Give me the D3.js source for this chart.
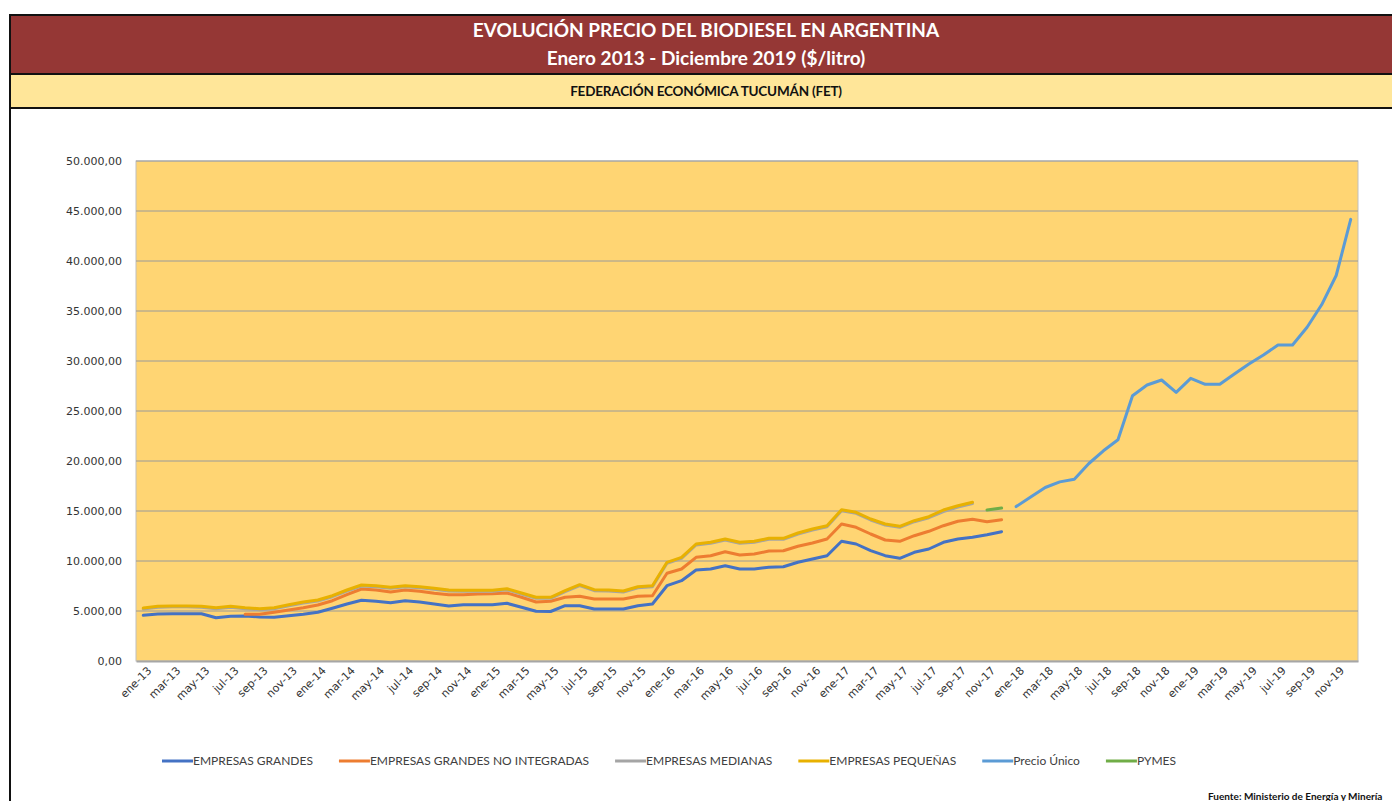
<!DOCTYPE html>
<html>
<head>
<meta charset="utf-8">
<script src="https://cdn.jsdelivr.net/npm/d3@7"></script>
<style>
  body { margin: 0; background: #fff; }
  svg { display: block; }
</style>
</head>
<body>
<div id="chart"></div>
<script>
// meses y años del eje de categorías
const monthNames = ["ene", "feb", "mar", "abr", "may", "jun", "jul", "ago", "sep", "oct", "nov", "dic"];
const years = ["13", "14", "15", "16", "17", "18", "19"];
const categories = years.flatMap(y => monthNames.map(m => m + "-" + y));

const yTicks = [0, 5000, 10000, 15000, 20000, 25000, 30000, 35000, 40000, 45000, 50000];

// valores ($/litro), cada serie empieza en el índice indicado
const grandes = [4570, 4700, 4730, 4730, 4730, 4330, 4470, 4500, 4400, 4370,
  4530, 4670, 4870, 5270, 5700, 6070, 5970, 5830, 6030, 5900,
  5700, 5500, 5630, 5630, 5630, 5770, 5370, 4970, 4950, 5530,
  5530, 5200, 5200, 5200, 5530, 5700, 7530, 8030, 9100, 9200,
  9530, 9200, 9200, 9370, 9430, 9870, 10200, 10530, 11970, 11700,
  11030, 10530, 10270, 10870, 11200, 11870, 12200, 12370, 12630, 12930];
const grandesStart = 0;

const noIntegradas = [4670, 4670, 4870,
  5100, 5330, 5600, 6030, 6630, 7200, 7100, 6900, 7100, 6970,
  6770, 6630, 6630, 6700, 6730, 6800, 6370, 5900, 5970,
  6370, 6470, 6200, 6200, 6200, 6470, 6530, 8770, 9200, 10370, 10530,
  10930, 10600, 10700, 11000, 11030, 11470, 11800, 12200, 13700, 13370,
  12700, 12100, 11970, 12530, 12970, 13530, 13970, 14170, 13930, 14130];
const noIntegradasStart = 7;

const medianas = [5200, 5380, 5420, 5420, 5380, 5230, 5380, 5230, 5130, 5230,
  5530, 5800, 6000, 6430, 7000, 7500, 7430, 7270, 7430, 7330,
  7170, 7000, 6970, 6970, 6970, 7130, 6700, 6270, 6270,
  6930, 7530, 7030, 7000, 6900, 7330, 7430, 9770, 10270, 11600, 11770,
  12100, 11770, 11870, 12170, 12170, 12700, 13100, 13430, 15030, 14770,
  14100, 13600, 13370, 13930, 14330, 14950, 15400, 15750];
const medianasStart = 0;

const pequenas = [5300, 5470, 5500, 5500, 5470, 5330, 5470, 5330, 5230, 5330,
  5630, 5900, 6100, 6530, 7100, 7600, 7530, 7370, 7530, 7430,
  7270, 7100, 7070, 7070, 7070, 7230, 6800, 6370, 6370,
  7030, 7630, 7130, 7100, 7000, 7430, 7530, 9870, 10370, 11700, 11870,
  12200, 11870, 11970, 12270, 12270, 12800, 13200, 13530, 15130, 14870,
  14200, 13700, 13470, 14030, 14430, 15100, 15530, 15870];
const pequenasStart = 0;

const precioUnico = [15440, 16410, 17350, 17910, 18180, 19750, 21020, 22120, 26530, 27600,
  28100, 26860, 28270, 27670, 27670, 28700, 29700, 30600, 31600, 31600,
  33380, 35620, 38550, 44160];
const precioUnicoStart = 60;

const pymes = [15100, 15300];
const pymesStart = 58;

const seriesNames = ["EMPRESAS GRANDES", "EMPRESAS GRANDES NO INTEGRADAS", "EMPRESAS MEDIANAS",
  "EMPRESAS PEQUEÑAS", "Precio Único", "PYMES"];
const seriesColors = ["#4472C4", "#ED7D31", "#A5A5A5", "#E8B100", "#5B9BD5", "#70AD47"];
const seriesValues = [grandes, noIntegradas, medianas, pequenas, precioUnico, pymes];
const seriesStarts = [grandesStart, noIntegradasStart, medianasStart, pequenasStart, precioUnicoStart, pymesStart];

const series = seriesNames.map((name, k) => ({
  name: name,
  color: seriesColors[k],
  points: seriesValues[k].map((v, j) => ({ cat: categories[seriesStarts[k] + j], value: v }))
}));

const W = 1392, H = 801;
const svg = d3.select("#chart").append("svg")
  .attr("width", W)
  .attr("height", H);

// cabecera
svg.append("rect")
  .attr("x", 10).attr("y", 15)
  .attr("width", W).attr("height", 59)
  .attr("fill", "#953735")
  .attr("stroke", "#111").attr("stroke-width", 2);

svg.append("rect")
  .attr("x", 10).attr("y", 74)
  .attr("width", W).attr("height", 34)
  .attr("fill", "#FFE699")
  .attr("stroke", "#111").attr("stroke-width", 2);

svg.append("line")
  .attr("x1", 10).attr("y1", 15)
  .attr("x2", 10).attr("y2", H)
  .attr("stroke", "#111").attr("stroke-width", 2);

const titleFont = "Lato, 'Open Sans', sans-serif";

svg.append("text")
  .attr("x", 706).attr("y", 37)
  .attr("text-anchor", "middle")
  .attr("fill", "#fff")
  .style("font-family", titleFont)
  .style("font-weight", "bold")
  .style("font-size", "19px")
  .text("EVOLUCIÓN PRECIO DEL BIODIESEL EN ARGENTINA");

svg.append("text")
  .attr("x", 706).attr("y", 65)
  .attr("text-anchor", "middle")
  .attr("fill", "#fff")
  .style("font-family", titleFont)
  .style("font-weight", "bold")
  .style("font-size", "19px")
  .text("Enero 2013 - Diciembre 2019 ($/litro)");

svg.append("text")
  .attr("x", 706).attr("y", 96)
  .attr("text-anchor", "middle")
  .attr("fill", "#111")
  .style("font-family", titleFont)
  .style("font-weight", "bold")
  .style("font-size", "13.5px")
  .style("letter-spacing", "-0.2px")
  .text("FEDERACIÓN ECONÓMICA TUCUMÁN (FET)");

// area del gráfico
const plot = { left: 136, right: 1358, top: 161, bottom: 661 };

const xScale = d3.scaleBand()
  .domain(categories)
  .range([plot.left, plot.right]);

const yScale = d3.scaleLinear()
  .domain([0, 50000])
  .range([plot.bottom, plot.top]);

const xMid = c => xScale(c) + xScale.bandwidth() / 2;

svg.append("rect")
  .attr("x", plot.left).attr("y", plot.top)
  .attr("width", plot.right - plot.left)
  .attr("height", plot.bottom - plot.top)
  .attr("fill", "#FFD573")
  .attr("stroke", "#BFBFBF").attr("stroke-width", 1);

svg.append("g")
  .selectAll("line")
  .data(yTicks.filter(t => t > 0))
  .join("line")
  .attr("x1", plot.left).attr("x2", plot.right)
  .attr("y1", d => yScale(d)).attr("y2", d => yScale(d))
  .attr("stroke", "#9A9A9A").attr("stroke-width", 1);

// eje Y
const fmt = d3.formatLocale({ decimal: ",", thousands: ".", grouping: [3], currency: ["$", ""] }).format(",.2f");

const yAxis = svg.append("g")
  .attr("transform", `translate(${plot.left},0)`)
  .call(d3.axisLeft(yScale).tickValues(yTicks).tickFormat(fmt).tickSize(0).tickPadding(14));
yAxis.select(".domain").remove();
yAxis.selectAll("text")
  .attr("fill", "#333")
  .style("font-family", "'DejaVu Sans', Verdana, sans-serif")
  .style("font-size", "11px");

// eje X
const xAxis = svg.append("g")
  .attr("transform", `translate(0,${plot.bottom})`)
  .call(d3.axisBottom(xScale).tickValues(categories.filter((c, i) => i % 2 === 0)).tickSize(0).tickPadding(7));
xAxis.select(".domain")
  .attr("stroke", "#A6A6A6").attr("stroke-width", 2);
xAxis.selectAll("text")
  .attr("fill", "#333")
  .attr("text-anchor", "end")
  .attr("transform", "rotate(-45)")
  .attr("dx", "-0.1em")
  .attr("dy", "0.6em")
  .style("font-family", "'DejaVu Sans', Verdana, sans-serif")
  .style("font-size", "11px");

// líneas
const line = d3.line()
  .x(d => xMid(d.cat))
  .y(d => yScale(d.value));

svg.append("g")
  .selectAll("path")
  .data(series)
  .join("path")
  .attr("d", d => line(d.points))
  .attr("fill", "none")
  .attr("stroke", d => d.color)
  .attr("stroke-width", 3)
  .attr("stroke-linejoin", "round")
  .attr("stroke-linecap", "round");

// leyenda
const legend = svg.append("g").attr("transform", "translate(162,761)");
let lx = 0;
series.forEach(s => {
  const g = legend.append("g").attr("transform", `translate(${lx},0)`);
  g.append("line")
    .attr("x1", 0).attr("x2", 31)
    .attr("y1", 0).attr("y2", 0)
    .attr("stroke", s.color).attr("stroke-width", 3);
  const t = g.append("text")
    .attr("x", 31).attr("y", 4)
    .attr("fill", "#404040")
    .style("font-family", titleFont)
    .style("font-size", "12px")
    .text(s.name);
  lx += 31 + t.node().getComputedTextLength() + 26;
});

svg.append("text")
  .attr("x", 1208).attr("y", 800)
  .attr("fill", "#111")
  .style("font-family", titleFont)
  .style("font-weight", "bold")
  .style("font-size", "10px")
  .text("Fuente: Ministerio de Energía y Minería");
</script>
</body>
</html>
